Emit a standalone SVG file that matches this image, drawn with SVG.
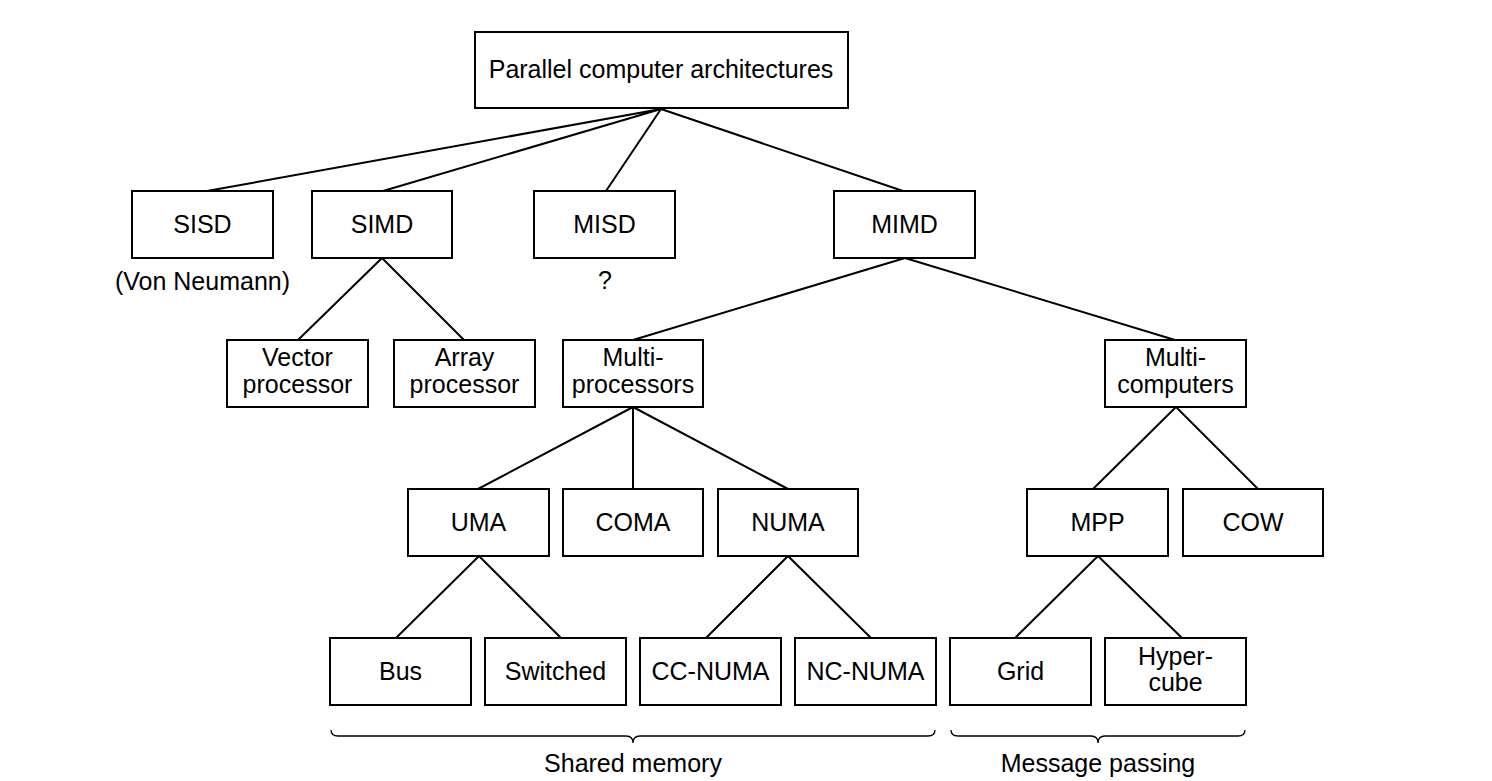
<svg xmlns="http://www.w3.org/2000/svg" width="1492" height="781" viewBox="0 0 1492 781">
<style>
.box{fill:#fff;stroke:#000;stroke-width:2}
.t{font-family:"Liberation Sans",Arial,Helvetica,sans-serif;font-size:25px;fill:#000;text-anchor:middle}
.c{fill:none;stroke:#000;stroke-width:2}
.br{fill:none;stroke:#000;stroke-width:1.3}
</style>
<rect width="1492" height="781" fill="#fff"/>
<g id="connectors">
<path class="c" d="M661,109L207,191M661,109L383,191M661,109L606,191M661,109L903,191"/>
<path class="c" d="M382,258L298,340M382,258L464,340"/>
<path class="c" d="M905,258L633,340M905,258L1175,340"/>
<path class="c" d="M633,407L478,489M633,407L633,489M633,407L788,489"/>
<path class="c" d="M1176,407L1093,489M1176,407L1258,489"/>
<path class="c" d="M479,556L396,638M479,556L561,638"/>
<path class="c" d="M788,556L706,638M788,556L871,638"/>
<path class="c" d="M1098,556L1015,638M1098,556L1182,638"/>
</g>
<g id="root"><rect class="box" x="475" y="32" width="373" height="76"/><text class="t" x="661" y="78">Parallel computer architectures</text></g>
<g id="sisd"><rect class="box" x="132" y="191" width="141" height="67"/><text class="t" x="202.5" y="233">SISD</text></g>
<g id="simd"><rect class="box" x="312" y="191" width="140" height="67"/><text class="t" x="382" y="233">SIMD</text></g>
<g id="misd"><rect class="box" x="534" y="191" width="141" height="67"/><text class="t" x="604.5" y="233">MISD</text></g>
<g id="mimd"><rect class="box" x="834" y="191" width="141" height="67"/><text class="t" x="904.5" y="233">MIMD</text></g>
<g id="vonneumann"><text class="t" x="202.5" y="290">(Von Neumann)</text></g>
<g id="question"><text class="t" x="605" y="289">?</text></g>
<g id="vector"><rect class="box" x="227" y="340" width="141" height="67"/><text class="t" x="297.5" y="366">Vector</text><text class="t" x="297.5" y="392.5">processor</text></g>
<g id="array"><rect class="box" x="394" y="340" width="141" height="67"/><text class="t" x="464.5" y="366">Array</text><text class="t" x="464.5" y="392.5">processor</text></g>
<g id="multiprocessors"><rect class="box" x="563" y="340" width="140" height="67"/><text class="t" x="633" y="366">Multi-</text><text class="t" x="633" y="392.5">processors</text></g>
<g id="multicomputers"><rect class="box" x="1105" y="340" width="141" height="67"/><text class="t" x="1175.5" y="366">Multi-</text><text class="t" x="1175.5" y="392.5">computers</text></g>
<g id="uma"><rect class="box" x="408" y="489" width="141" height="67"/><text class="t" x="478.5" y="531">UMA</text></g>
<g id="coma"><rect class="box" x="563" y="489" width="140" height="67"/><text class="t" x="633" y="531">COMA</text></g>
<g id="numa"><rect class="box" x="718" y="489" width="140" height="67"/><text class="t" x="788" y="531">NUMA</text></g>
<g id="mpp"><rect class="box" x="1027" y="489" width="141" height="67"/><text class="t" x="1097.5" y="531">MPP</text></g>
<g id="cow"><rect class="box" x="1183" y="489" width="140" height="67"/><text class="t" x="1253" y="531">COW</text></g>
<g id="bus"><rect class="box" x="330" y="638" width="141" height="67"/><text class="t" x="400.5" y="680">Bus</text></g>
<g id="switched"><rect class="box" x="485" y="638" width="141" height="67"/><text class="t" x="555.5" y="680">Switched</text></g>
<g id="ccnuma"><rect class="box" x="640" y="638" width="141" height="67"/><text class="t" x="710.5" y="680">CC-NUMA</text></g>
<g id="ncnuma"><rect class="box" x="795" y="638" width="141" height="67"/><text class="t" x="865.5" y="680">NC-NUMA</text></g>
<g id="grid"><rect class="box" x="950" y="638" width="141" height="67"/><text class="t" x="1020.5" y="680">Grid</text></g>
<g id="hypercube"><rect class="box" x="1105" y="638" width="141" height="67"/><text class="t" x="1175.5" y="664.5">Hyper-</text><text class="t" x="1175.5" y="691">cube</text></g>
<g id="shared-memory">
<path class="br" d="M331,730Q331,736 338,736L626,736Q633,736 633,743Q633,736 640,736L928,736Q935,736 935,730"/>
<text class="t" x="633" y="772">Shared memory</text>
</g>
<g id="message-passing">
<path class="br" d="M951,730Q951,736 958,736L1091,736Q1098,736 1098,743Q1098,736 1105,736L1238,736Q1245,736 1245,730"/>
<text class="t" x="1098" y="772">Message passing</text>
</g>
</svg>
